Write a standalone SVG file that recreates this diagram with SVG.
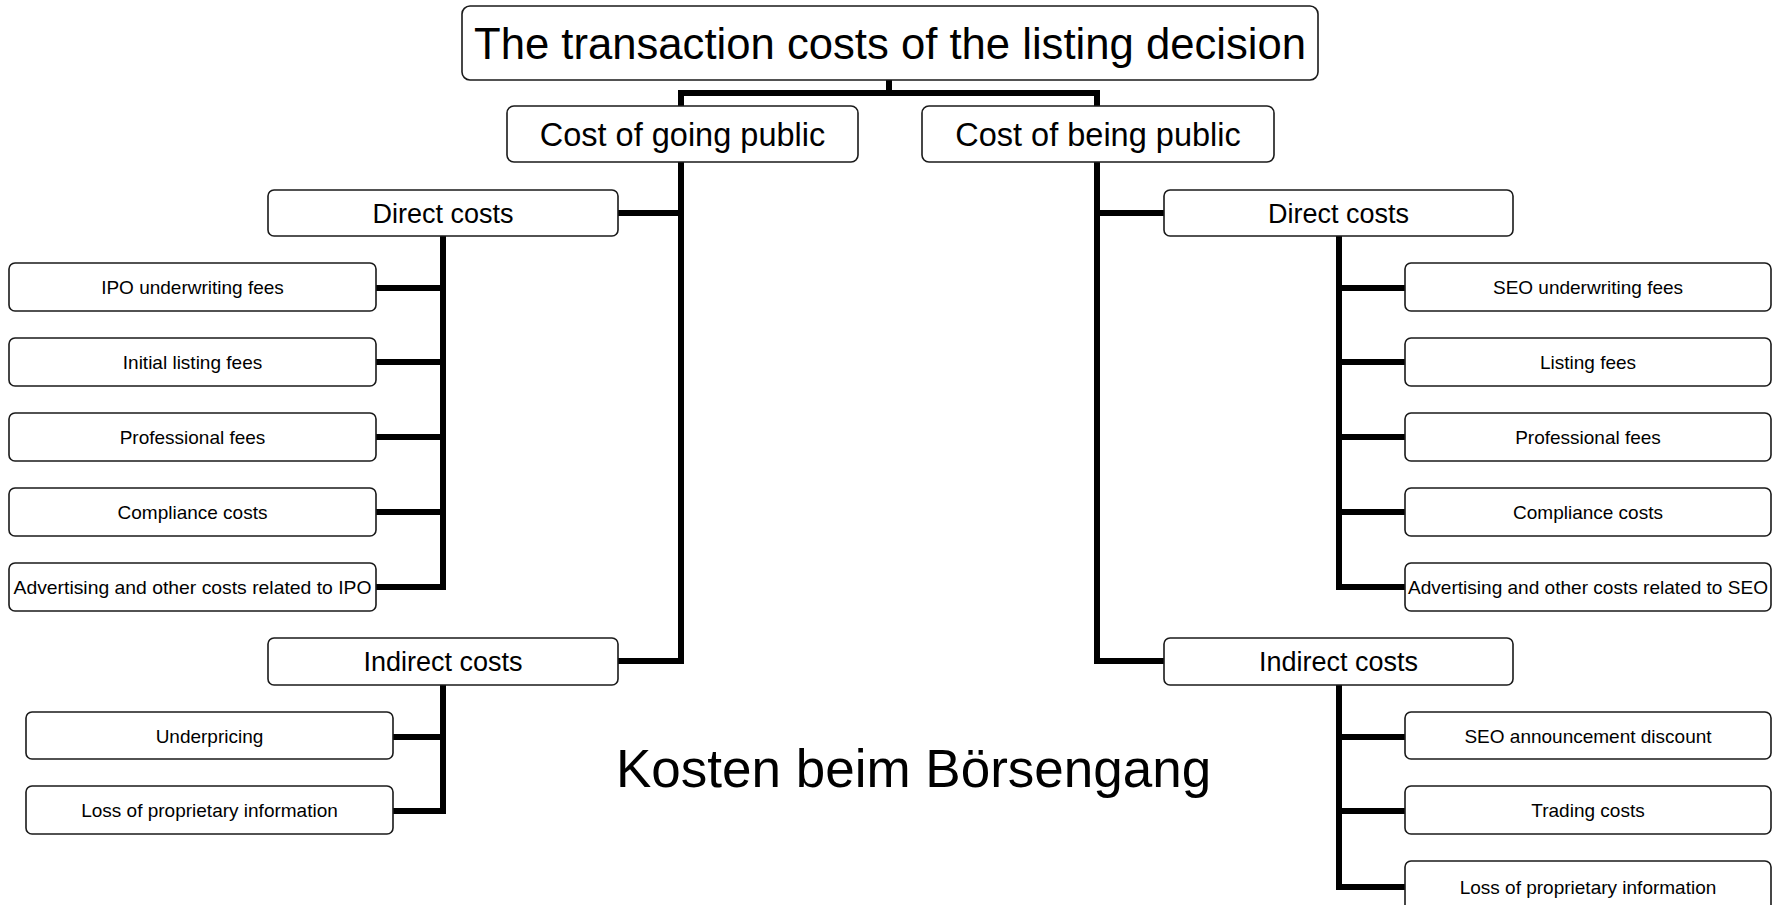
<svg xmlns="http://www.w3.org/2000/svg" width="1781" height="905" viewBox="0 0 1781 905">
<style>
.box{fill:#fff;stroke:#1a1a1a;stroke-width:1.6}
.conn{fill:none;stroke:#000;stroke-width:6;stroke-linejoin:miter;stroke-linecap:butt}
text{font-family:"Liberation Sans",Arial,sans-serif;fill:#000;text-anchor:middle}
.t0{font-size:43.5px}
.t1{font-size:32.5px}
.t2{font-size:27px}
.t3{font-size:19px}
.cap{font-size:53px;text-anchor:start}
</style>
<rect width="1781" height="905" fill="#fff"/>
<g id="connectors">
<path class="conn" d="M889,80 V93 M681,106 V93 H1097 V106"/>
<path class="conn" d="M681,162 V661 H618 M681,213 H618"/>
<path class="conn" d="M1097,162 V661 H1164 M1097,213 H1164"/>
<path class="conn" d="M443,236 V587 H376 M443,288 H376 M443,362 H376 M443,437 H376 M443,512 H376"/>
<path class="conn" d="M443,685 V811 H393 M443,737 H393"/>
<path class="conn" d="M1339,236 V587 H1405 M1339,288 H1405 M1339,362 H1405 M1339,437 H1405 M1339,512 H1405"/>
<path class="conn" d="M1339,685 V887 H1405 M1339,737 H1405 M1339,811 H1405"/>
</g>
<g id="title"><rect class="box" x="462" y="6" width="856" height="74" rx="8"/><text class="t0" x="890" y="59" textLength="832" lengthAdjust="spacingAndGlyphs">The transaction costs of the listing decision</text></g>
<g id="going"><rect class="box" x="507" y="106" width="351" height="56" rx="7"/><text class="t1" x="682.5" y="146">Cost of going public</text></g>
<g id="being"><rect class="box" x="922" y="106" width="352" height="56" rx="7"/><text class="t1" x="1098" y="146">Cost of being public</text></g>
<g id="direct-l"><rect class="box" x="268" y="190" width="350" height="46" rx="6"/><text class="t2" x="443" y="223">Direct costs</text></g>
<g id="indirect-l"><rect class="box" x="268" y="638" width="350" height="47" rx="6"/><text class="t2" x="443" y="671">Indirect costs</text></g>
<g id="direct-r"><rect class="box" x="1164" y="190" width="349" height="46" rx="6"/><text class="t2" x="1338.5" y="223">Direct costs</text></g>
<g id="indirect-r"><rect class="box" x="1164" y="638" width="349" height="47" rx="6"/><text class="t2" x="1338.5" y="671">Indirect costs</text></g>
<g id="l1"><rect class="box" x="9" y="263" width="367" height="48" rx="6"/><text class="t3" x="192.5" y="294">IPO underwriting fees</text></g>
<g id="l2"><rect class="box" x="9" y="338" width="367" height="48" rx="6"/><text class="t3" x="192.5" y="369">Initial listing fees</text></g>
<g id="l3"><rect class="box" x="9" y="413" width="367" height="48" rx="6"/><text class="t3" x="192.5" y="444">Professional fees</text></g>
<g id="l4"><rect class="box" x="9" y="488" width="367" height="48" rx="6"/><text class="t3" x="192.5" y="519">Compliance costs</text></g>
<g id="l5"><rect class="box" x="9" y="563" width="367" height="48" rx="6"/><text class="t3" x="192.5" y="594" textLength="358" lengthAdjust="spacingAndGlyphs">Advertising and other costs related to IPO</text></g>
<g id="l6"><rect class="box" x="26" y="712" width="367" height="47" rx="6"/><text class="t3" x="209.5" y="742.5">Underpricing</text></g>
<g id="l7"><rect class="box" x="26" y="786" width="367" height="48" rx="6"/><text class="t3" x="209.5" y="817">Loss of proprietary information</text></g>
<g id="r1"><rect class="box" x="1405" y="263" width="366" height="48" rx="6"/><text class="t3" x="1588" y="294">SEO underwriting fees</text></g>
<g id="r2"><rect class="box" x="1405" y="338" width="366" height="48" rx="6"/><text class="t3" x="1588" y="369">Listing fees</text></g>
<g id="r3"><rect class="box" x="1405" y="413" width="366" height="48" rx="6"/><text class="t3" x="1588" y="444">Professional fees</text></g>
<g id="r4"><rect class="box" x="1405" y="488" width="366" height="48" rx="6"/><text class="t3" x="1588" y="519">Compliance costs</text></g>
<g id="r5"><rect class="box" x="1405" y="563" width="366" height="48" rx="6"/><text class="t3" x="1588" y="594" textLength="360" lengthAdjust="spacingAndGlyphs">Advertising and other costs related to SEO</text></g>
<g id="r6"><rect class="box" x="1405" y="712" width="366" height="47" rx="6"/><text class="t3" x="1588" y="742.5">SEO announcement discount</text></g>
<g id="r7"><rect class="box" x="1405" y="786" width="366" height="48" rx="6"/><text class="t3" x="1588" y="817">Trading costs</text></g>
<g id="r8"><rect class="box" x="1405" y="861" width="366" height="52" rx="6"/><text class="t3" x="1588" y="894">Loss of proprietary information</text></g>
<g id="caption"><text class="cap" x="616" y="787">Kosten beim Börsengang</text></g>
</svg>
